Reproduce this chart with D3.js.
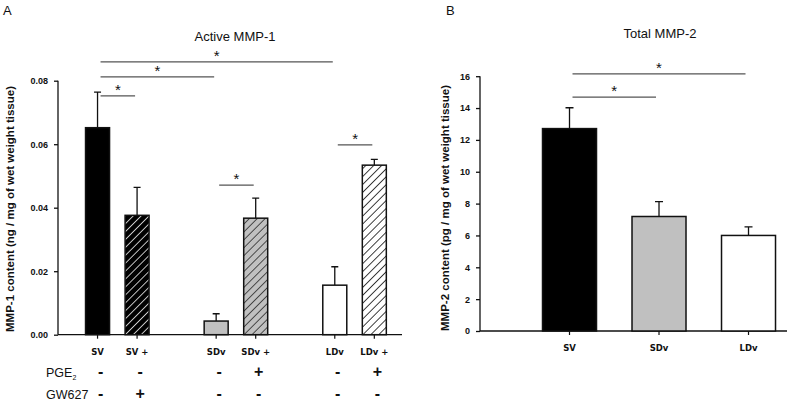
<!DOCTYPE html>
<html>
<head>
<meta charset="utf-8">
<script src="https://cdn.jsdelivr.net/npm/d3@7"></script>
<style>
  body { margin: 0; background: #fff; }
  svg { display: block; }
  text { font-family: Arial, "Liberation Sans", sans-serif; fill: #111; }
</style>
</head>
<body>
<svg id="chart" width="791" height="410"></svg>
<script>
// ---- panel A data ----
var groupsA = ["SV", "SV +", "SDv", "SDv +", "LDv", "LDv +"];
var slotsA = [0, 1, 3, 4, 6, 7];
var valuesA = [0.0652, 0.0376, 0.0043, 0.0367, 0.0156, 0.0534];
var errorsA = [0.0112, 0.0088, 0.0023, 0.0063, 0.0058, 0.0018];
var fillsA = ["black", "hatchBlack", "#c0c0c0", "hatchGray", "white", "hatchWhite"];
var pgeSigns = ["-", "-", "-", "+", "-", "+"];
var gwSigns = ["-", "+", "-", "-", "-", "-"];
var ticksA = [0.00, 0.02, 0.04, 0.06, 0.08];
// significance brackets: [from index, to index, level value]
var sigA = [[0, 4, 0.0859], [0, 2, 0.0812], [0, 1, 0.0752], [2, 3, 0.0471], [4, 5, 0.0598]];

// ---- panel B data ----
var groupsB = ["SV", "SDv", "LDv"];
var valuesB = [12.71, 7.19, 6.0];
var errorsB = [1.31, 0.94, 0.54];
var fillsB = ["black", "#c0c0c0", "white"];
var ticksB = [0, 2, 4, 6, 8, 10, 12, 14, 16];
var sigB = [[0, 2, 16.14], [0, 1, 14.69]];

var svg = d3.select("#chart");
var defs = svg.append("defs");

function hatch(id, bg, fg) {
    var s = 5.6;
    var p = defs.append("pattern").attr("id", id)
        .attr("patternUnits", "userSpaceOnUse")
        .attr("width", s).attr("height", s)
        .attr("patternTransform", "rotate(45)");
    p.append("rect").attr("width", s).attr("height", s).attr("fill", bg);
    p.append("line").attr("x1", 0).attr("y1", 0).attr("x2", 0).attr("y2", s)
        .attr("stroke", fg).attr("stroke-width", 1.5);
}
hatch("hatchBlack", "black", "white");
hatch("hatchGray", "#c0c0c0", "#222");
hatch("hatchWhite", "white", "black");

function fillOf(f) {
    return f.indexOf("hatch") === 0 ? "url(#" + f + ")" : f;
}

/**
 * draw a bar panel
 */
function drawPanel(cfg) {
    var g = svg.append("g");
    var x = d3.scaleLinear().domain(cfg.xDomain).range(cfg.xRange);
    var y = d3.scaleLinear().domain(cfg.yDomain).range(cfg.yRange);

    g.append("g").attr("transform", "translate(" + cfg.xRange[0] + ",0)")
        .call(d3.axisLeft(y).tickValues(cfg.ticks).tickFormat(cfg.fmt).tickSize(4).tickPadding(6))
        .call(function (a) {
            a.select(".domain").attr("stroke", "#111").attr("stroke-width", 1.3)
                .attr("d", "M0," + y(cfg.yDomain[1]) + "V" + y(0));
            a.selectAll(".tick line").attr("stroke", "#111").attr("stroke-width", 1.3);
            a.selectAll(".tick text").style("font-size", "9px").style("font-weight", "bold")
                .style("font-family", "Arial, sans-serif").attr("fill", "#111");
        });

    g.append("line").attr("x1", cfg.xRange[0]).attr("x2", cfg.xRange[1])
        .attr("y1", y(0)).attr("y2", y(0))
        .attr("stroke", "#111").attr("stroke-width", 1.3);

    var data = cfg.values.map(function (v, i) {
        return { v: v, e: cfg.errors[i], s: cfg.slots[i], f: cfg.fills[i], n: cfg.names[i] };
    });
    var bw = cfg.barWidth;

    // x ticks under bars
    g.selectAll(".xt").data(data).enter().append("line")
        .attr("x1", function (d) { return x(d.s); }).attr("x2", function (d) { return x(d.s); })
        .attr("y1", y(0)).attr("y2", y(0) + 4)
        .attr("stroke", "#111").attr("stroke-width", 1.2);

    // error bars
    g.selectAll(".eb").data(data).enter().append("path")
        .attr("d", function (d) {
            var cx = x(d.s), t = y(d.v + d.e);
            return "M" + cx + "," + y(d.v) + "V" + t + "M" + (cx - cfg.cap) + "," + t + "H" + (cx + cfg.cap);
        })
        .attr("stroke", "#111").attr("stroke-width", 1.3).attr("fill", "none");

    g.selectAll(".bar").data(data).enter().append("rect")
        .attr("x", function (d) { return x(d.s) - bw / 2; })
        .attr("y", function (d) { return y(d.v); })
        .attr("width", bw)
        .attr("height", function (d) { return y(0) - y(d.v); })
        .attr("fill", function (d) { return fillOf(d.f); })
        .attr("stroke", "#111").attr("stroke-width", 1.5);

    g.selectAll(".xl").data(data).enter().append("text")
        .attr("x", function (d) { return x(d.s); })
        .attr("y", y(0) + 20)
        .attr("text-anchor", "middle")
        .style("font-family", "'DejaVu Sans', sans-serif")
        .style("font-size", "8.5px").style("font-weight", "bold")
        .text(function (d) { return d.n; });

    // significance lines
    cfg.sig.forEach(function (s) {
        var x1 = x(cfg.slots[s[0]]) + cfg.sigPad[0], x2 = x(cfg.slots[s[1]]) + cfg.sigPad[1];
        var yy = y(s[2]);
        g.append("line").attr("x1", x1).attr("x2", x2).attr("y1", yy).attr("y2", yy)
            .attr("stroke", "#555").attr("stroke-width", 1.2);
        g.append("text").attr("x", (x1 + x2) / 2).attr("y", yy - 1)
            .attr("text-anchor", "middle").style("font-size", "15px").text("*");
    });

    g.append("text").attr("x", cfg.titleX).attr("y", cfg.titleY)
        .attr("text-anchor", "middle").style("font-size", "13px").text(cfg.title);

    g.append("text").attr("transform", "translate(" + cfg.ylabX + "," + cfg.ylabY + ") rotate(-90)")
        .attr("text-anchor", "middle").style("font-size", "11.5px").style("font-weight", "bold")
        .text(cfg.ylab);

    g.append("text").attr("x", cfg.letterX).attr("y", 15).style("font-size", "13px").text(cfg.letter);
    return x;
}

var xA = drawPanel({
    names: groupsA, slots: slotsA, values: valuesA, errors: errorsA, fills: fillsA,
    xDomain: [-1, 7.7], xRange: [58, 402],
    yDomain: [0, 0.08], yRange: [334.7, 80.7], ticks: ticksA, fmt: d3.format(".2f"),
    barWidth: 24, cap: 3.5, sig: sigA, sigPad: [3, -2],
    title: "Active MMP-1", titleX: 235, titleY: 41,
    ylab: "MMP-1 content (ng  / mg of wet weight tissue)", ylabX: 14, ylabY: 209,
    letter: "A", letterX: 3
});

drawPanel({
    names: groupsB, slots: [0, 1, 2], values: valuesB, errors: errorsB, fills: fillsB,
    xDomain: [-1, 2.43], xRange: [480, 787],
    yDomain: [0, 16], yRange: [331, 76.2], ticks: ticksB, fmt: d3.format("d"),
    barWidth: 54, cap: 4, sig: sigB, sigPad: [3, -3],
    title: "Total MMP-2", titleX: 660, titleY: 38,
    ylab: "MMP-2 content (pg / mg of wet weight tissue)", ylabX: 449, ylabY: 208,
    letter: "B", letterX: 446
});

// treatment table under panel A
var tbl = svg.append("g");
var rows = [["PGE", pgeSigns, 377], ["GW627", gwSigns, 399]];
rows.forEach(function (r) {
    var t = tbl.append("text").attr("x", 46).attr("y", r[2]).style("font-size", "12.5px").text(r[0]);
    if (r[0] === "PGE") {
        t.append("tspan").attr("dy", 3).style("font-size", "7px").text("2");
    }
    tbl.selectAll(null).data(r[1]).enter().append("text")
        .attr("x", function (d, i) { return xA(slotsA[i]) + 3; })
        .attr("y", r[2])
        .attr("text-anchor", "middle")
        .style("font-size", "16px").style("font-weight", "bold")
        .text(function (d) { return d; });
});
</script>
</body>
</html>
